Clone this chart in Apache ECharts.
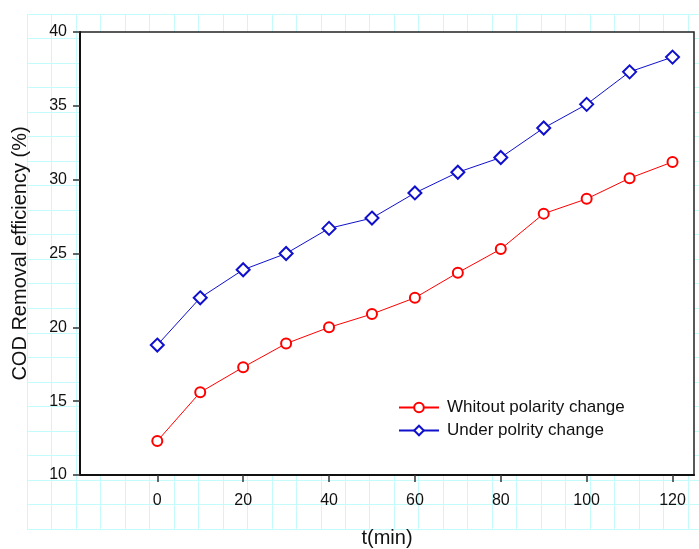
<!DOCTYPE html>
<html>
<head>
<meta charset="utf-8">
<script src="https://cdn.jsdelivr.net/npm/echarts@6/dist/echarts.min.js"></script>
<style>
  html, body { margin: 0; padding: 0; background: #fff; }
  #chart { width: 699px; height: 549px; }
</style>
</head>
<body>
<div id="chart"></div>
<script>
// t (min)
const times = [0, 10, 20, 30, 40, 50, 60, 70, 80, 90, 100, 110, 120];
// COD removal efficiency (%)
const withoutPolarity = [12.3, 15.6, 17.3, 18.9, 20.0, 20.9, 22.0, 23.7, 25.3, 27.7, 28.7, 30.1, 31.2];
const underPolarity = [18.8, 22.0, 23.9, 25.0, 26.7, 27.4, 29.1, 30.5, 31.5, 33.5, 35.1, 37.3, 38.3];
const xTicks = [0, 20, 40, 60, 80, 100, 120];

const font = 'Liberation Sans, Arial, sans-serif';
const pageGrid = '#c6fbfb';

const chart = echarts.init(document.getElementById('chart'));

const pair = (xs, ys) => xs.map((x, i) => [x, ys[i]]);

chart.setOption({
  animation: false,
  textStyle: {fontFamily: font},
  grid: [
    // page grid behind everything
    {left: 27, top: 14, width: 24.48 * 28, height: 24.52 * 21, z: 0, outerBoundsMode: 'none'},
    // plot
    {left: 80, top: 32, right: 5, bottom: 74, show: true, backgroundColor: '#fff',
     borderColor: '#222', borderWidth: 1.5, z: 3, outerBoundsMode: 'none'}
  ],
  legend: {
    orient: 'vertical',
    left: 393, top: 394,
    itemWidth: 40, itemHeight: 12, itemGap: 6,
    textStyle: {fontFamily: font, fontSize: 17, color: '#111', padding: [0, 0, 0, 3]},
    data: ['Whitout polarity change', 'Under polrity change']
  },
  xAxis: [
    {gridIndex: 0, type: 'value', min: 0, max: 28, interval: 1, z: 0,
     axisLine: {show: false}, axisTick: {show: false}, axisLabel: {show: false},
     splitLine: {show: true, lineStyle: {color: pageGrid, width: 1}}},
    {gridIndex: 1, type: 'value', min: -18, max: 125, z: 4,
     name: 't(min)', nameLocation: 'middle', nameGap: 53,
     nameTextStyle: {fontFamily: font, fontSize: 20, color: '#111'},
     axisLine: {show: true, onZero: false, lineStyle: {color: '#111', width: 2}},
     axisTick: {show: true, inside: false, length: 7, customValues: xTicks,
                lineStyle: {color: '#333', width: 1.5}},
     axisLabel: {customValues: xTicks, margin: 18, fontSize: 16, color: '#111', fontFamily: font},
     splitLine: {show: false}}
  ],
  yAxis: [
    {gridIndex: 0, type: 'value', min: 0, max: 21, interval: 1, inverse: true, z: 0,
     axisLine: {show: false}, axisTick: {show: false}, axisLabel: {show: false},
     splitLine: {show: true, lineStyle: {color: pageGrid, width: 1}}},
    {gridIndex: 1, type: 'value', min: 10, max: 40, interval: 5, z: 4,
     name: 'COD Removal efficiency (%)', nameLocation: 'middle', nameGap: 50,
     nameTextStyle: {fontFamily: font, fontSize: 20, color: '#111'},
     axisLine: {show: true, onZero: false, lineStyle: {color: '#111', width: 2}},
     axisTick: {show: true, inside: false, length: 7, lineStyle: {color: '#333', width: 1.5}},
     axisLabel: {margin: 13, fontSize: 16, color: '#111', fontFamily: font},
     splitLine: {show: false}}
  ],
  series: [
    {
      name: 'Whitout polarity change', type: 'line',
      xAxisIndex: 1, yAxisIndex: 1, z: 5,
      data: pair(times, withoutPolarity),
      symbol: 'emptyCircle', symbolSize: 10,
      lineStyle: {color: '#ff0000', width: 1},
      itemStyle: {color: '#ff0000', borderWidth: 1.2}
    },
    {
      name: 'Under polrity change', type: 'line',
      xAxisIndex: 1, yAxisIndex: 1, z: 5,
      data: pair(times, underPolarity),
      symbol: 'emptyDiamond', symbolSize: 13,
      lineStyle: {color: '#1010cc', width: 1},
      itemStyle: {color: '#1010cc', borderWidth: 1.2}
    }
  ]
});
</script>
</body>
</html>
